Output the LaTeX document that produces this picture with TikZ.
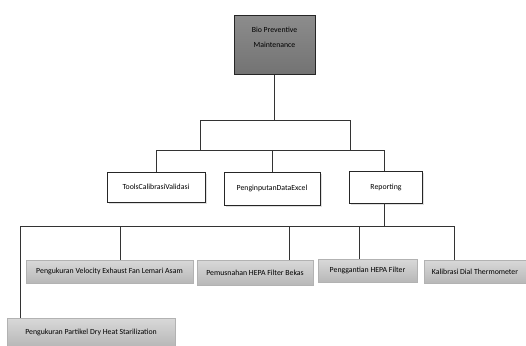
\documentclass[tikz,border=0pt]{standalone}
\usepackage{fontspec}
\setmainfont{Carlito}
\usepackage{xcolor}
\usepackage{tikz}

\tikzset{
  topbox/.style={top color=black!45, bottom color=black!55, draw=black!85, line width=0.6pt, align=center, inner sep=0pt},
  midbox/.style={fill=white, draw=black!85, line width=0.8pt, inner sep=0pt},
  lowbox/.style={top color=black!15, bottom color=black!28, draw=black!30, line width=0.4pt, inner sep=0pt},
  shadowbox/.style={fill=black!12, draw=none, inner sep=0pt, xshift=1.5pt, yshift=-1.5pt},
  link/.style={draw=black!80, line width=0.8pt}
}

\begin{document}
\begin{tikzpicture}[x=1pt, y=-1pt, font=\fontsize{7.8}{9}\selectfont]
      \useasboundingbox (0,0) rectangle (526,345);

      % Top box
      \node[topbox, minimum width=81pt, minimum height=59pt] (bpm) at (274.5,45) {Bio Preventive\\[6pt]Maintenance\\[6pt]\mbox{}};

      % Second level (shadow boxes first)
      \node[shadowbox, minimum width=98pt, minimum height=30pt] (toolsS) at (156,187) {};
      \node[midbox, minimum width=98pt, minimum height=30pt] (tools) at (156,187) {ToolsCalibrasiValidasi};
      \node[shadowbox, minimum width=96pt, minimum height=33pt] (inputS) at (272,188.5) {};
      \node[midbox, minimum width=96pt, minimum height=33pt] (input) at (272,188.5) {PenginputanDataExcel};
      \node[shadowbox, minimum width=73pt, minimum height=32pt] (reportS) at (386,187) {};
      \node[midbox, minimum width=73pt, minimum height=32pt] (report) at (386,187) {Reporting};

      % Third level
      \node[lowbox, minimum width=167pt, minimum height=23pt] (velocity) at (109.5,271.5) {Pengukuran Velocity Exhaust Fan Lemari Asam};
      \node[lowbox, minimum width=116pt, minimum height=25pt] (musnah) at (255,272.5) {Pemusnahan HEPA Filter Bekas};
      \node[lowbox, minimum width=99pt, minimum height=23pt] (ganti) at (367.5,270.5) {Penggantian HEPA Filter};
      \node[lowbox, minimum width=102pt, minimum height=23pt] (kalibrasi) at (475,271.5) {Kalibrasi Dial Thermometer};
      \node[lowbox, minimum width=168pt, minimum height=28pt] (partikel) at (91,332) {Pengukuran Partikel Dry Heat Starilization};

      % Junction points
      \coordinate (a1) at (200,120);
      \coordinate (a2) at (350,120);
      \coordinate (b1) at (200,150);
      \coordinate (b2) at (350,150);
      \coordinate (c1) at (156,150);
      \coordinate (c2) at (384,150);
      \coordinate (r) at (384,226);
      \coordinate (d0) at (20,226);
      \coordinate (d1) at (120,226);
      \coordinate (d2) at (289,226);
      \coordinate (d3) at (359,226);
      \coordinate (d4) at (454,226);

      % Connectors
      \draw[link] (bpm.south) -- (bpm.south |- a1);
      \draw[link] (a1) -- (a2);
      \draw[link] (a1) -- (b1);
      \draw[link] (a2) -- (b2);
      \draw[link] (c1) -- (c2);
      \draw[link] (c1) -- (tools.north);
      \draw[link] (input.north |- c1) -- (input.north);
      \draw[link] (c2) -- (c2 |- report.north);
      \draw[link] (c2 |- report.south) -- (r);
      \draw[link] (d0) -- (d4);
      \draw[link] (d0) -- (d0 |- partikel.north);
      \draw[link] (d1) -- (d1 |- velocity.north);
      \draw[link] (d2) -- (d2 |- musnah.north);
      \draw[link] (d3) -- (d3 |- ganti.north);
      \draw[link] (d4) -- (d4 |- kalibrasi.north);
  \end{tikzpicture}
\end{document}
